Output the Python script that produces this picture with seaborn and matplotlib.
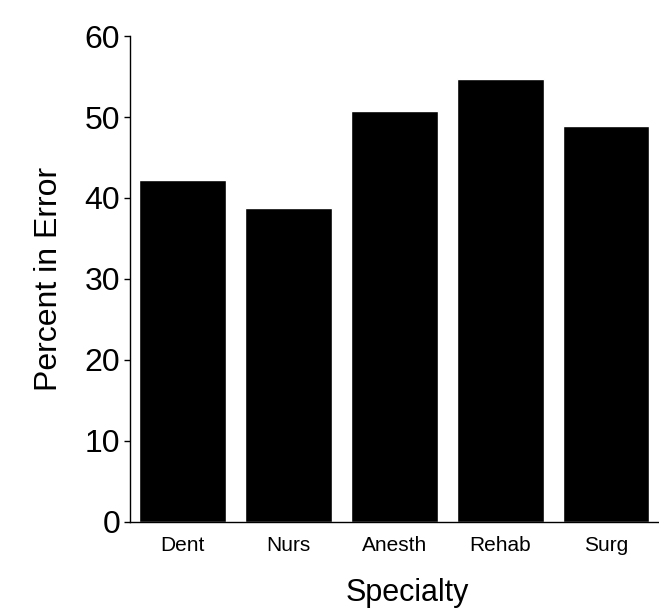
import seaborn as sns
import matplotlib.pyplot as plt
import pandas as pd

specialties = ["Dent", "Nurs", "Anesth", "Rehab", "Surg"]
pct_error = [42.2, 38.8, 50.8, 54.7, 48.9]

df = pd.DataFrame({"Specialty": specialties, "Percent in Error": pct_error})

sns.set_style("ticks", {"axes.edgecolor": "black", "text.color": "black",
                        "axes.labelcolor": "black", "xtick.color": "black",
                        "ytick.color": "black"})
plt.rcParams["font.family"] = ["Liberation Sans", "DejaVu Sans"]

fig = plt.figure(figsize=(6.59, 6.11), dpi=100)
ax = fig.add_axes([0.197, 0.146, 0.803, 0.795])

sns.barplot(data=df, x="Specialty", y="Percent in Error", color="black",
            saturation=1, width=0.82, ax=ax)

ax.set_ylim(0, 60)
ax.set_xlim(-0.5, 4.5)
ax.set_yticks([0, 10, 20, 30, 40, 50, 60])
ax.tick_params(axis="y", labelsize=23, length=4, width=1, pad=3)
ax.tick_params(axis="x", labelsize=15, length=0, pad=10)
ax.set_xlabel("Specialty", fontsize=22)
ax.set_ylabel("Percent in Error", fontsize=23)
ax.xaxis.set_label_coords(0.525, -0.115)
ax.yaxis.set_label_coords(-0.125, 0.5)
for s in ["top", "right"]:
    ax.spines[s].set_visible(False)
ax.spines["left"].set_linewidth(1)
ax.spines["bottom"].set_linewidth(1)

fig.savefig("out.png", dpi=100)
